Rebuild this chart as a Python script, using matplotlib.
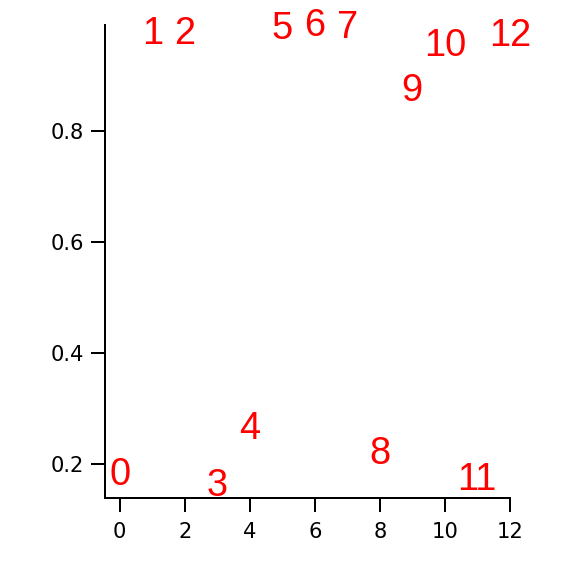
import matplotlib
matplotlib.use("Agg")
import matplotlib.pyplot as plt

plt.rcParams['font.family'] = ['Liberation Sans', 'DejaVu Sans']

labels = [str(i) for i in range(13)]
x_vals = list(range(13))
y_vals = [0.180, 0.974, 0.974, 0.161, 0.263, 0.984, 0.988, 0.986,
          0.218, 0.872, 0.952, 0.172, 0.970]
xticks = [0, 2, 4, 6, 8, 10, 12]
yticks = [0.2, 0.4, 0.6, 0.8]

fig = plt.figure(figsize=(8, 8), dpi=72)
ax = fig.add_axes([0.182, 0.135, 0.703, 0.822])
for xv, yv, lab in zip(x_vals, y_vals, labels):
    ax.text(xv, yv, lab, color='red', fontsize=38, ha='center', va='center')

ax.set_xlim(-0.46, 12)
ax.set_ylim(0.139, 0.991)
ax.set_xticks(xticks)
ax.set_yticks(yticks)
ax.set_yticklabels([f"{v:.1f}" for v in yticks])
for s in ['top', 'right']:
    ax.spines[s].set_visible(False)
for s in ['left', 'bottom']:
    ax.spines[s].set_linewidth(2)
ax.tick_params(axis='both', direction='out', length=14, width=2, labelsize=21)
ax.tick_params(axis='x', pad=10)
ax.tick_params(axis='y', pad=7)
for t in ax.get_xticklabels() + ax.get_yticklabels():
    t.set_fontfamily(['DejaVu Sans'])

fig.savefig("out.png", dpi=72)
